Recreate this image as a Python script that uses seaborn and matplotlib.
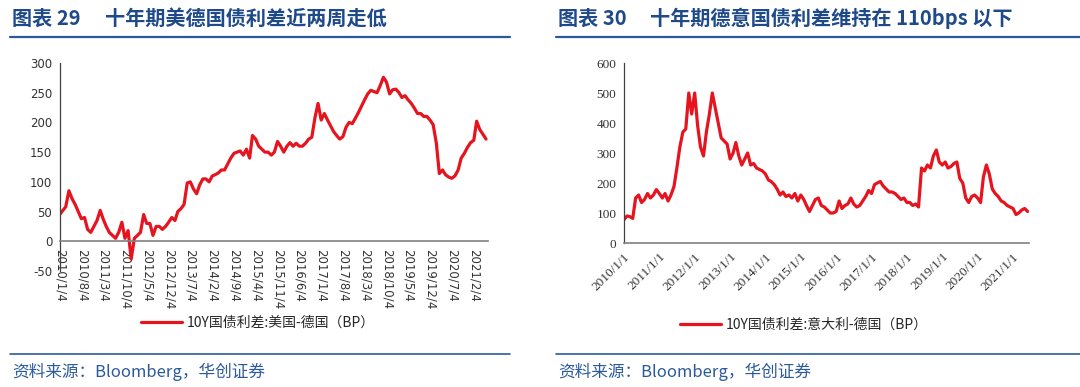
import matplotlib
matplotlib.use("Agg")
import matplotlib.pyplot as plt
from matplotlib.lines import Line2D
import pandas as pd
import seaborn as sns

# ---------------- data ----------------
months = pd.date_range("2010-01-01", "2021-06-01", freq="MS")

us_de = [
    45, 52, 58, 85, 72, 62, 50, 38, 40, 20, 15, 25,
    35, 52, 38, 25, 15, 10, 5, 15, 32, 5, 18, -30,
    5, 10, 15, 45, 30, 30, 10, 25, 25, 20, 25, 32,
    40, 35, 50, 55, 62, 98, 100, 88, 80, 95, 105, 105,
    100, 110, 112, 115, 120, 120, 130, 140, 148, 150, 152, 145,
    155, 140, 178, 172, 160, 155, 150, 150, 145, 150, 168, 160,
    150, 160, 166, 160, 165, 160, 160, 165, 172, 175, 208, 232,
    204, 215, 205, 195, 185, 178, 172, 176, 192, 200, 198, 207,
    217, 228, 238, 248, 254, 252, 250, 262, 276, 268, 248, 255,
    256, 250, 242, 245, 238, 232, 224, 215, 215, 210, 210, 204,
    196, 165, 114, 120, 112, 108, 106, 110, 120, 140, 148, 158,
    166, 170, 202, 188, 180, 172,
]

it_de = [
    78, 90, 88, 82, 150, 160, 135, 145, 165, 150, 160, 178,
    165, 150, 165, 140, 160, 188, 250, 320, 370, 380, 500, 430,
    500, 390, 320, 290, 370, 430, 500, 450, 400, 350, 340, 330,
    280, 300, 335, 290, 260, 280, 300, 260, 265, 250, 245, 240,
    230, 210, 205, 195, 180, 160, 170, 155, 160, 150, 165, 140,
    160, 145, 125, 105, 125, 145, 150, 125, 120, 110, 100, 100,
    105, 140, 115, 125, 130, 150, 130, 120, 125, 140, 155, 175,
    165, 195, 200, 205, 190, 180, 170, 170, 165, 155, 145, 150,
    135, 135, 125, 130, 120, 250, 240, 260, 250, 290, 310, 270,
    260, 270, 250, 255, 265, 270, 215, 200, 150, 135, 155, 160,
    150, 135, 220, 260, 230, 180, 165, 155, 140, 135, 125, 120,
    115, 95, 100, 110, 115, 105,
]

left_ticks = ["2010/1/4", "2010/8/4", "2011/3/4", "2011/10/4", "2012/5/4",
              "2012/12/4", "2013/7/4", "2014/2/4", "2014/9/4", "2015/4/4",
              "2015/11/4", "2016/6/4", "2017/1/4", "2017/8/4", "2018/3/4",
              "2018/10/4", "2019/5/4", "2019/12/4", "2020/7/4", "2021/2/4"]
right_ticks = ["2010/1/1", "2011/1/1", "2012/1/1", "2013/1/1", "2014/1/1",
               "2015/1/1", "2016/1/1", "2017/1/1", "2018/1/1", "2019/1/1",
               "2020/1/1", "2021/1/1"]

title_l_a = "图表 29"
title_l_b = "十年期美德国债利差近两周走低"
title_r_a = "图表 30"
title_r_b = "十年期德意国债利差维持在 110bps 以下"
legend_l = "10Y国债利差:美国-德国（BP）"
legend_r = "10Y国债利差:意大利-德国（BP）"
source = "资料来源：Bloomberg，华创证券"

df_l = pd.DataFrame({"date": months, "value": us_de})
df_r = pd.DataFrame({"date": months, "value": it_de})

# ---------------- style ----------------
sns.set_style("white")
plt.rcParams["font.family"] = ["Noto Sans CJK SC", "DejaVu Sans"]
plt.rcParams["axes.unicode_minus"] = False

RED = "#E6141E"
BLUE_T = "#1F4A8A"
BLUE_L = "#2B5A9C"
W, H = 1080, 387
fig = plt.figure(figsize=(W / 100, H / 100), dpi=100)


def fx(px):
    return px / W


def fy(py):
    return 1 - py / H


def style_spines(ax):
    ax.spines["top"].set_visible(False)
    ax.spines["right"].set_visible(False)
    ax.spines["left"].set_color("#404040")
    ax.spines["bottom"].set_color("#808080")
    ax.spines["left"].set_linewidth(0.9)
    ax.spines["bottom"].set_linewidth(1.2)


# ---------------- left chart ----------------
axl = fig.add_axes([fx(60), fy(271), fx(428), (271 - 63) / H])
sns.lineplot(data=df_l, x="date", y="value", ax=axl, color=RED, lw=2.3,
             label=legend_l)
style_spines(axl)
axl.spines["bottom"].set_position(("data", 0))
axl.set_ylim(-50, 300)
axl.set_yticks(range(-50, 301, 50))
axl.set_xlim(pd.Timestamp("2010-01-04"), pd.Timestamp("2021-06-20"))
axl.set_xticks(pd.to_datetime(left_ticks, format="%Y/%m/%d"))
axl.set_xticklabels(left_ticks)
axl.tick_params(axis="both", direction="out", length=3, width=0.8,
                colors="#555555", pad=2.5, labelcolor="#333333",
                labelsize=8.5, labelfontfamily="DejaVu Sans")
axl.tick_params(axis="x", labelrotation=270)
axl.set_xlabel("")
axl.set_ylabel("")
axl.legend(loc="center", bbox_to_anchor=(fx(258), fy(323)),
           bbox_transform=fig.transFigure, frameon=False, handlelength=2.9,
           handletextpad=0.35, prop={"family": ["Noto Sans CJK SC"], "size": 10})

# ---------------- right chart ----------------
axr = fig.add_axes([fx(624), fy(243), fx(405), (243 - 63) / H])
sns.lineplot(data=df_r, x="date", y="value", ax=axr, color=RED, lw=2.3,
             label=legend_r)
style_spines(axr)
axr.set_ylim(0, 600)
axr.set_yticks(range(0, 601, 100))
axr.set_xlim(pd.Timestamp("2010-01-01"), pd.Timestamp("2021-06-15"))
axr.set_xticks(pd.to_datetime(right_ticks, format="%Y/%m/%d"))
axr.set_xticklabels(right_ticks)
axr.tick_params(axis="both", direction="out", length=3, width=0.8,
                colors="#555555", pad=2.5, labelcolor="#333333",
                labelsize=9.5, labelfontfamily="Liberation Serif")
axr.tick_params(axis="x", labelrotation=45)
plt.setp(axr.get_xticklabels(), ha="right", rotation_mode="anchor")
axr.set_xlabel("")
axr.set_ylabel("")
axr.legend(loc="center", bbox_to_anchor=(fx(804), fy(325)),
           bbox_transform=fig.transFigure, frameon=False, handlelength=2.9,
           handletextpad=0.35, prop={"family": ["Noto Sans CJK SC"], "size": 10})

# ---------------- titles, rules, source ----------------
tkw = dict(color=BLUE_T, fontsize=14.5, fontweight="bold", va="center",
           ha="left", family=["Noto Sans CJK SC", "DejaVu Sans"])
fig.text(fx(12), fy(18), title_l_a, **tkw)
fig.text(fx(105), fy(18), title_l_b, **tkw)
fig.text(fx(558), fy(18), title_r_a, **tkw)
fig.text(fx(650), fy(18), title_r_b, **tkw)

for x0, x1 in [(10, 510), (556, 1080)]:
    fig.add_artist(Line2D([fx(x0), fx(x1)], [fy(37), fy(37)], color=BLUE_L,
                          lw=1.6, transform=fig.transFigure))
    fig.add_artist(Line2D([fx(x0), fx(x1)], [fy(354), fy(354)], color=BLUE_L,
                          lw=1.2, transform=fig.transFigure))

skw = dict(color=BLUE_L, fontsize=12, style="italic", va="center",
           ha="left", family=["Noto Sans CJK SC", "DejaVu Sans"])
fig.text(fx(12), fy(372), source, **skw)
fig.text(fx(558), fy(372), source, **skw)

fig.savefig("out.png", dpi=100, facecolor="white")
